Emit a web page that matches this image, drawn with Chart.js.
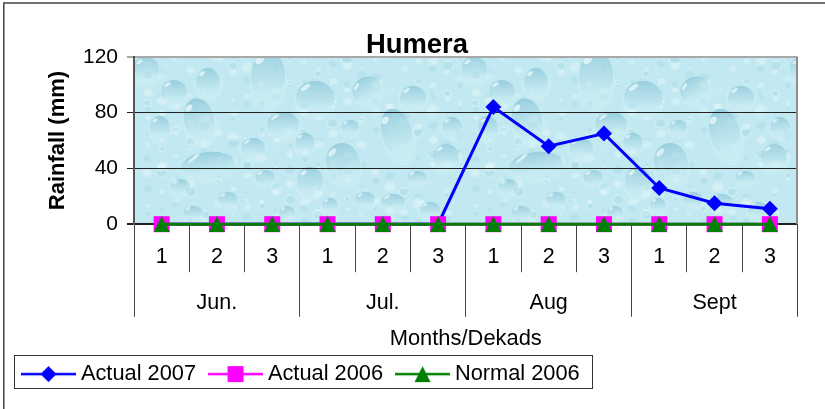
<!DOCTYPE html>
<html><head><meta charset="utf-8">
<style>html,body{margin:0;padding:0;background:#fff}canvas{display:block}</style>
<script src="https://cdn.jsdelivr.net/npm/chart.js@4"></script>
</head><body><canvas id="c" width="825" height="409"></canvas>
<script>
const dekads = ['1','2','3','1','2','3','1','2','3','1','2','3'];
const months = ['Jun.','Jul.','Aug','Sept'];
const actual2007 = [0,0,0,0,0,0,84,56,65,26,15,11];
const actual2006 = [0,0,0,0,0,0,0,0,0,0,0,0];
const normal2006 = [0,0,0,0,0,0,0,0,0,0,0,0];
const yMax = 120, yStep = 40;

const FONT = '"Liberation Sans", Arial, sans-serif';
Chart.defaults.font.family = FONT;
Chart.defaults.color = '#000';

// water-drop wall texture (decoration only): cx, cy, rx, ry, rotation in tile pixels
const drops = [
 [134,20,17,27,0],[181,41,19,17,0],[233,33,15,13,-.5],[279,41,13,12,0],[74,26,12,15,0],[40,35,13,12,0],
 [65,63,15,22,-.2],[26,71,10,12,0],[149,68,16,13,0],[263,76,15,25,-.3],[216,71,9,8,0],[318,70,10,10,0],
 [312,100,13,13,0],[171,86,10,10,0],[119,91,12,10,0],[209,106,17,20,-.2],[74,108,27,13,-.1],[176,125,13,15,0],
 [46,130,10,8,0],[131,121,10,8,0],[94,143,10,8,0],[59,156,10,7,0],[231,143,10,8,0],[259,145,12,8,0],
 [283,121,10,7,0],[153,156,8,7,0],[196,148,8,7,0],[296,153,10,8,0],[12,13,13,13,0]
];
function makeTile(){
  const t = document.createElement('canvas'); t.width = 328; t.height = 167;
  const g = t.getContext('2d');
  g.fillStyle = '#c2e9f1'; g.fillRect(0,0,328,167);
  // mottled small specks with pale rims
  for(let i=0;i<320;i++){
    const x=(i*71.3)%328, y=(i*37.7+Math.sin(i)*9+167)%167, r=1.2+(i%5)*.9;
    g.fillStyle = i%2?'rgba(160,212,226,.32)':'rgba(228,248,250,.5)';
    g.beginPath(); g.ellipse(x,y,r,r*.8,0,0,7); g.fill();
    if(i%3===0){
      g.strokeStyle='rgba(235,250,252,.55)'; g.lineWidth=.8;
      g.beginPath(); g.ellipse(x,y,r+1,r*.8+1,0,0,7); g.stroke();
    }
  }
  for(const [cx,cy,rx,ry,rot] of drops){
    g.save(); g.translate(cx,cy); g.rotate(rot);
    g.fillStyle='rgba(225,247,250,.25)';
    g.beginPath(); g.ellipse(0,ry*.25,rx+2,ry+2,0,0,7); g.fill();
    const lg = g.createLinearGradient(0,-ry,0,ry);
    lg.addColorStop(0,'rgba(130,192,212,.68)');
    lg.addColorStop(.6,'rgba(165,215,228,.42)');
    lg.addColorStop(1,'rgba(210,242,246,0)');
    g.fillStyle = lg; g.beginPath(); g.ellipse(0,0,rx,ry,0,0,7); g.fill();
    g.fillStyle = 'rgba(240,252,252,.7)';
    g.beginPath(); g.ellipse(-rx*.5,-ry*.62,Math.max(2,rx*.28),Math.max(1.2,ry*.12),-.6,0,7); g.fill();
    g.restore();
  }
  return t;
}

function swatch(color, drawMark){
  const s = document.createElement('canvas'); s.width = 61; s.height = 20;
  const g = s.getContext('2d');
  g.strokeStyle = color; g.lineWidth = 2.5;
  g.beginPath(); g.moveTo(6,10); g.lineTo(61,10); g.stroke();
  g.fillStyle = color; g.beginPath(); drawMark(g,33.5,10); g.fill();
  return s;
}
const diamond = (g,x,y)=>{g.moveTo(x,y-8);g.lineTo(x+8,y);g.lineTo(x,y+8);g.lineTo(x-8,y);g.closePath();};
const square = (g,x,y)=>{g.rect(x-8,y-8,16,16);};
const triangle = (g,x,y)=>{g.moveTo(x,y-8);g.lineTo(x+8,y+8);g.lineTo(x-8,y+8);g.closePath();};
const triMark = document.createElement('canvas'); triMark.width = 16; triMark.height = 16;
{ const g = triMark.getContext('2d'); g.fillStyle='#008000'; g.beginPath(); triangle(g,8,8); g.fill(); }
const swatches = [swatch('#0000ff',diamond), swatch('#ff00ff',square), swatch('#008000',triangle)];

const tile = makeTile();
const decor = {
  id:'decor',
  beforeDraw(chart){
    const {ctx,chartArea:a} = chart;
    ctx.save();
    ctx.strokeStyle='#444'; ctx.lineWidth=1.5;
    ctx.beginPath(); ctx.moveTo(3.8,409); ctx.lineTo(3.8,3); ctx.lineTo(825,3); ctx.stroke();
    ctx.beginPath(); ctx.rect(a.left,a.top,a.right-a.left,a.bottom-a.top); ctx.clip();
    ctx.translate(a.left,a.top);
    ctx.fillStyle = ctx.createPattern(tile,'repeat');
    ctx.fillRect(0,0,a.right-a.left,a.bottom-a.top);
    ctx.restore();
  },
  afterDatasetsDraw(chart){
    const {ctx,chartArea:a} = chart;
    ctx.save();
    ctx.strokeStyle='#8c8c8c'; ctx.lineWidth=2;
    ctx.beginPath(); ctx.moveTo(a.right-.5,a.top); ctx.lineTo(a.right-.5,a.bottom); ctx.stroke();
    ctx.restore();
  },
  afterDraw(chart){
    const {ctx} = chart;
    ctx.save();
    ctx.strokeStyle='#333'; ctx.lineWidth=1;
    ctx.strokeRect(14.5,355.5,578,33);
    ctx.restore();
  }
};

new Chart(document.getElementById('c'),{
  type:'line',
  data:{labels:dekads,datasets:[
    {label:'Actual 2007',data:actual2007,borderColor:'#0000ff',backgroundColor:'#0000ff',borderWidth:3,
     pointStyle:'rectRot',pointRadius:8,pointBorderWidth:0,tension:0,order:3,clip:false},
    {label:'Actual 2006',data:actual2006,borderColor:'#ff00ff',backgroundColor:'#ff00ff',borderWidth:3,
     pointStyle:'rect',pointRadius:11.3,pointBorderWidth:0,tension:0,order:2,clip:false},
    {label:'Normal 2006',data:normal2006,borderColor:'#008000',backgroundColor:'#008000',borderWidth:3,
     pointStyle:triMark,pointRadius:8,pointBorderWidth:0,tension:0,order:1,clip:false}
  ]},
  plugins:[decor],
  options:{
    responsive:false,animation:false,
    layout:{padding:{left:9,right:0,top:3,bottom:14}},
    plugins:{
      tooltip:{enabled:false},
      title:{display:true,text:'Humera',color:'#000',
        font:{size:27.4,weight:'bold',family:FONT,lineHeight:.8},padding:{top:31,bottom:1}},
      legend:{display:true,position:'bottom',align:'start',
        labels:{usePointStyle:true,pointStyleWidth:49,padding:12,color:'#000',font:{size:21.8,family:FONT},
          generateLabels(chart){
            const items = Chart.defaults.plugins.legend.labels.generateLabels(chart);
            items.sort((a,b)=>a.datasetIndex-b.datasetIndex);
            items.forEach((it,i)=>{it.pointStyle = swatches[i];});
            return items;
          }}}
    },
    scales:{
      x:{type:'category',position:'bottom',offset:true,
        afterFit(s){s.height=48;},
        grid:{offset:true,drawOnChartArea:false,tickLength:48,color:'#444',lineWidth:1},
        border:{display:false},
        ticks:{padding:-28,maxRotation:0,autoSkip:false,color:'#000',font:{size:21.5}}},
      x2:{type:'category',position:'bottom',labels:months,offset:true,
        afterFit(s){s.height=79;},
        grid:{offset:true,drawOnChartArea:false,tickLength:44.5,color:'#444',lineWidth:1},
        border:{display:false},
        ticks:{padding:-27,maxRotation:0,autoSkip:false,color:'#000',font:{size:21.5}},
        title:{display:true,text:'Months/Dekads',color:'#000',font:{size:21.9},padding:{top:0,bottom:-1}}},
      y:{min:0,max:yMax,
        afterFit(s){s.width=125;},
        grid:{tickLength:7,lineWidth:c=>c.tick&&c.tick.value===yMax?2:(c.tick&&c.tick.value===0?2:1),
          color:c=>c.tick&&c.tick.value===yMax?'#a8a8a8':'#222'},
        border:{color:'#555',width:2},
        ticks:{stepSize:yStep,padding:9,color:'#000',font:{size:21}},
        title:{display:true,text:'Rainfall (mm)',color:'#000',font:{size:22,weight:'bold'},padding:{top:36,bottom:0}}},
      yGap:{position:'right',display:true,afterFit(s){s.width=27.5;},
        grid:{display:false},border:{display:false},ticks:{display:false}}
    }
  }
});
</script></body></html>
